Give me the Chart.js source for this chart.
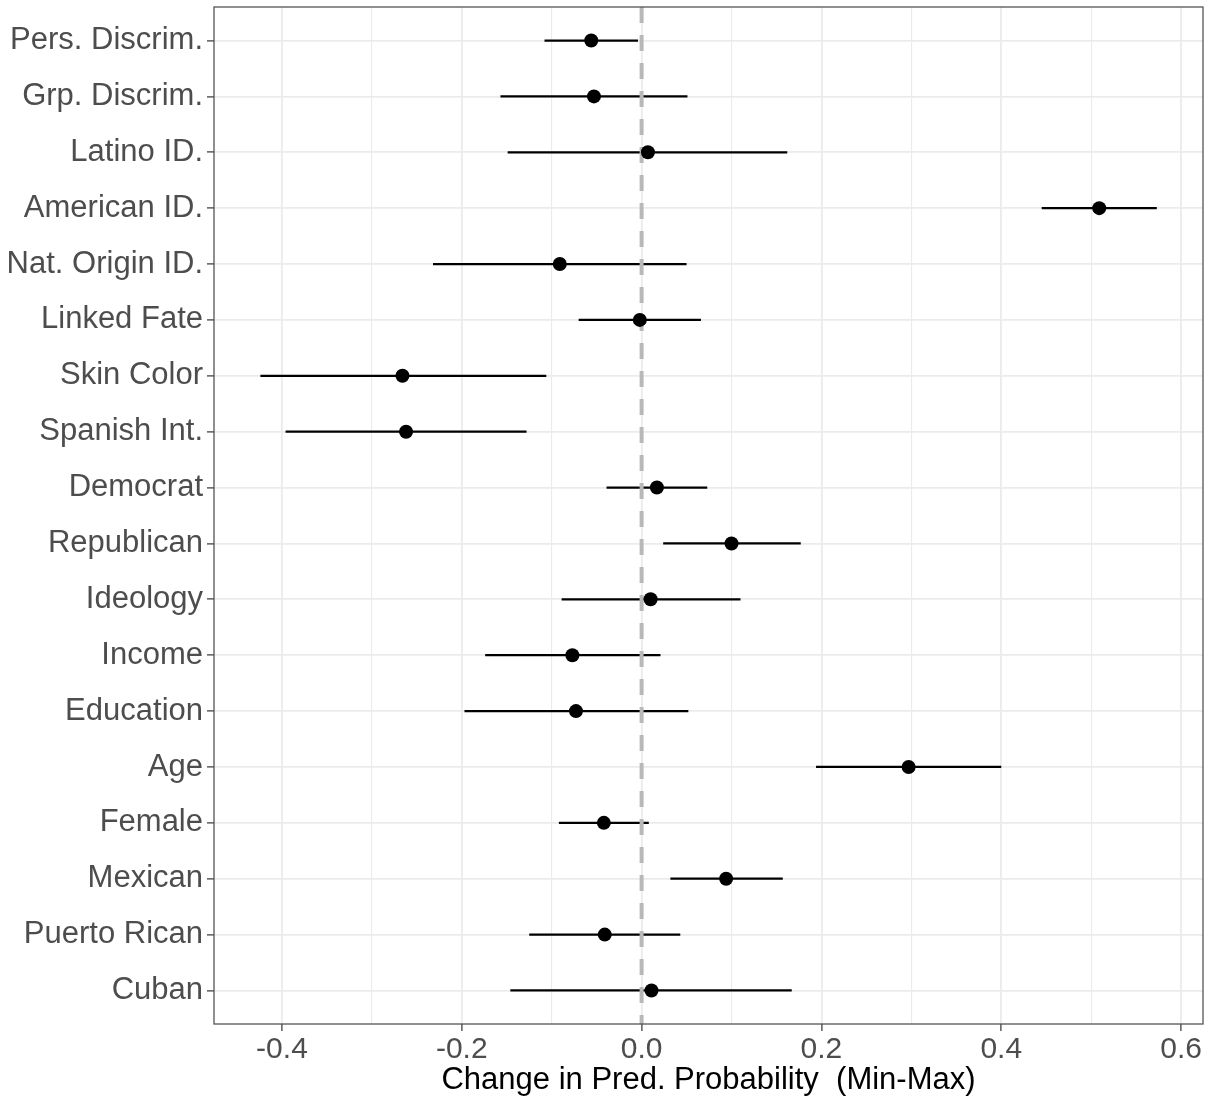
<!DOCTYPE html>
<html>
<head>
<meta charset="utf-8">
<script src="https://cdn.jsdelivr.net/npm/chart.js@4/dist/chart.umd.min.js"></script>
<style>
  html, body { margin: 0; padding: 0; background: #ffffff; }
  #wrap { width: 1215px; height: 1101px; }
</style>
</head>
<body>
<div id="wrap"><canvas id="myChart" width="1215" height="1101"></canvas></div>
<script>
// categories, top to bottom
const categories = ['Pers. Discrim.', 'Grp. Discrim.', 'Latino ID.', 'American ID.', 'Nat. Origin ID.',
    'Linked Fate', 'Skin Color', 'Spanish Int.', 'Democrat', 'Republican', 'Ideology', 'Income',
    'Education', 'Age', 'Female', 'Mexican', 'Puerto Rican', 'Cuban'];

// change in predicted probability (point estimate) and interval ends
const estimates = [-0.056, -0.053, 0.007, 0.509, -0.091, -0.002, -0.266, -0.262, 0.017, 0.100,
    0.010, -0.077, -0.073, 0.297, -0.042, 0.094, -0.041, 0.011];
const lower = [-0.108, -0.157, -0.149, 0.445, -0.232, -0.070, -0.424, -0.396, -0.039, 0.024,
    -0.089, -0.174, -0.197, 0.194, -0.092, 0.032, -0.125, -0.146];
const upper = [-0.004, 0.051, 0.162, 0.573, 0.050, 0.066, -0.106, -0.128, 0.073, 0.177,
    0.110, 0.021, 0.052, 0.400, 0.008, 0.157, 0.043, 0.167];

const xTicks = [-0.4, -0.3, -0.2, -0.1, 0.0, 0.1, 0.2, 0.3, 0.4, 0.5, 0.6];
const referenceLine = 0;

const isMajor = (v) => Math.round(v * 10) % 2 === 0;

// panel border like theme_bw
const panelBorder = {
    id: 'panelBorder',
    afterDraw(chart) {
        const { ctx, chartArea } = chart;
        ctx.save();
        ctx.strokeStyle = '#555555';
        ctx.lineWidth = 1.3;
        ctx.strokeRect(chartArea.left, chartArea.top, chartArea.right - chartArea.left, chartArea.bottom - chartArea.top);
        ctx.restore();
    }
};

const barSets = categories.map((c, i) => ({
    type: 'scatter',
    showLine: true,
    data: [{ x: lower[i], y: i }, { x: upper[i], y: i }],
    borderColor: '#000000',
    borderWidth: 2.2,
    pointRadius: 0,
    order: 2
}));

const refSet = {
    type: 'scatter',
    showLine: true,
    data: [{ x: referenceLine, y: -0.6 }, { x: referenceLine, y: categories.length - 0.4 }],
    borderColor: '#b8b8b8',
    borderWidth: 4,
    borderDash: [16, 12],
    pointRadius: 0,
    order: 1
};

const pointSet = {
    type: 'scatter',
    data: estimates.map((v, i) => ({ x: v, y: i })),
    backgroundColor: '#000000',
    borderColor: '#000000',
    pointRadius: 7,
    borderWidth: 0,
    order: 0
};

const noEdgePadding = (axis) => {
    axis.paddingTop = 0;
    axis.paddingBottom = 0;
    axis.paddingLeft = 0;
    axis.paddingRight = 0;
};

const ctx = document.getElementById('myChart').getContext('2d');

new Chart(ctx, {
    type: 'scatter',
    data: { datasets: [...barSets, refSet, pointSet] },
    options: {
        responsive: false,
        animation: false,
        devicePixelRatio: 1,
        layout: { padding: { left: 0, right: 12, top: 5, bottom: 0 } },
        plugins: { legend: { display: false }, tooltip: { enabled: false } },
        scales: {
            x: {
                type: 'linear',
                min: -0.4756,
                max: 0.6244,
                afterBuildTicks: (axis) => { axis.ticks = xTicks.map(v => ({ value: v })); },
                afterFit: (axis) => { axis.height = 77; noEdgePadding(axis); },
                border: { display: false },
                grid: {
                    color: '#ebebeb',
                    lineWidth: (c) => isMajor(c.tick.value) ? 1.8 : 1.1,
                    tickLength: 7,
                    tickColor: (c) => isMajor(c.tick.value) ? '#333333' : 'rgba(0,0,0,0)',
                    tickWidth: 1.2
                },
                ticks: {
                    autoSkip: false,
                    maxRotation: 0,
                    padding: 1,
                    color: '#4d4d4d',
                    font: { family: '"Liberation Sans", Arial, sans-serif', size: 30 },
                    callback: (v) => isMajor(v) ? Number(v).toFixed(1) : ''
                },
                title: {
                    display: true,
                    text: 'Change in Pred. Probability  (Min-Max)',
                    color: '#000000',
                    font: { family: '"Liberation Sans", Arial, sans-serif', size: 31, lineHeight: 1 },
                    padding: { top: 0, bottom: 5 }
                }
            },
            y: {
                type: 'linear',
                reverse: true,
                min: -0.6,
                max: categories.length - 0.4,
                afterBuildTicks: (axis) => { axis.ticks = categories.map((c, i) => ({ value: i })); },
                afterFit: (axis) => { axis.width = 214; noEdgePadding(axis); },
                border: { display: false },
                grid: {
                    color: '#ebebeb',
                    lineWidth: 1.8,
                    tickLength: 7,
                    tickColor: '#333333',
                    tickWidth: 1.2
                },
                ticks: {
                    autoSkip: false,
                    padding: 4,
                    color: '#4d4d4d',
                    font: { family: '"Liberation Sans", Arial, sans-serif', size: 31 },
                    callback: (v) => categories[v]
                }
            }
        }
    },
    plugins: [panelBorder]
});
</script>
</body>
</html>
